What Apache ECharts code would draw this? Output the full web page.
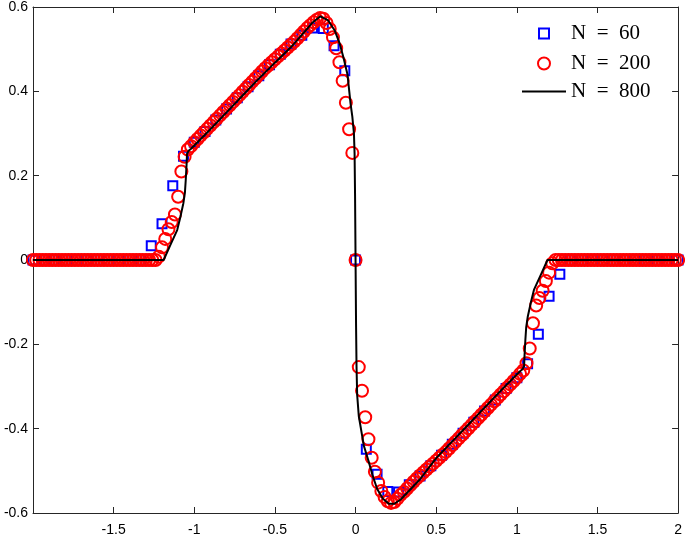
<!DOCTYPE html>
<html><head><meta charset="utf-8">
<script src="https://cdn.jsdelivr.net/npm/echarts@6/dist/echarts.min.js"></script>
<style>html,body{margin:0;padding:0;background:#fff}#c{width:685px;height:537px}</style>
</head><body><div id="c"></div><script>
// grids (uniform nodes on [-2, 2])
const n60 = 60, n200 = 200;
const x60 = Array.from({length: n60 + 1}, (_, i) => +(-2 + 4 * i / n60).toFixed(4));
const x200 = Array.from({length: n200 + 1}, (_, i) => +(-2 + 4 * i / n200).toFixed(4));

// N = 60 values
const y60 = [
  0,0,0,0,0,0,0,0,0,0,0,
  0.034,0.086,0.176,0.246,0.279,0.305,0.332,0.358,0.385,0.411,
  0.437,0.463,0.488,0.512,0.533,0.55,0.549,0.508,0.449,
  0,
  -0.449,-0.508,-0.549,-0.55,-0.533,-0.512,-0.488,-0.463,-0.437,
  -0.411,-0.385,-0.358,-0.332,-0.305,-0.279,-0.246,-0.176,-0.086,-0.034,
  0,0,0,0,0,0,0,0,0,0,0
];

// N = 200 values
const y200 = [
  0,0,0,0,0,0,0,0,0,0, 0,0,0,0,0,0,0,0,0,0, 0,0,0,0,0,0,0,0,0,0, 0,0,0,0,0,0,0,0,0,
  0.008,0.03,0.05,0.073,0.09,0.108,0.15,0.21,0.245,0.262,
  0.27,0.279,0.287,0.295,0.303,0.311,0.319,0.327,0.335,0.343,
  0.351,0.359,0.367,0.375,0.383,0.391,0.399,0.407,0.415,0.423,
  0.431,0.439,0.447,0.455,0.462,0.469,0.476,0.483,0.49,0.497,
  0.504,0.511,0.518,0.526,0.534,0.542,0.55,0.557,0.564,0.57,
  0.574,0.572,0.562,0.548,0.528,0.502,0.469,0.425,0.373,0.31,
  0.254,
  0,
  -0.254,-0.31,-0.373,-0.425,-0.469,-0.502,-0.528,-0.548,-0.562,-0.572,
  -0.576,-0.574,-0.566,-0.557,-0.55,-0.542,-0.534,-0.526,-0.518,-0.511,
  -0.504,-0.497,-0.49,-0.483,-0.476,-0.469,-0.462,-0.455,-0.447,-0.439,
  -0.431,-0.423,-0.415,-0.407,-0.399,-0.391,-0.383,-0.375,-0.367,-0.359,
  -0.351,-0.343,-0.335,-0.327,-0.319,-0.311,-0.303,-0.295,-0.287,-0.279,
  -0.27,-0.262,-0.245,-0.21,-0.15,-0.108,-0.09,-0.073,-0.05,-0.03,
  -0.008,
  0,0,0,0,0,0,0,0,0,0, 0,0,0,0,0,0,0,0,0,0, 0,0,0,0,0,0,0,0,0,0, 0,0,0,0,0,0,0,0,0
];

// N = 800 reference curve
const x800 = [-2,-1.19,-1.15,-1.106,-1.085,-1.068,-1.058,-1.053,-1.048,-1.045,-1.035,-1.02,
  -0.9,-0.8,-0.7,-0.6,-0.5,-0.4,-0.33,-0.27,-0.218,-0.17,-0.13,-0.1,-0.075,-0.05,-0.031,-0.02,-0.01,-0.006,-0.003,0,
  0.003,0.006,0.01,0.02,0.041,0.051,0.083,0.105,0.134,0.17,0.206,0.24,0.28,0.32,0.4,0.5,0.6,0.7,0.8,0.9,
  1.02,1.035,1.045,1.048,1.053,1.058,1.068,1.085,1.106,1.15,1.19,2];
const y800 = [0,0,0.034,0.071,0.104,0.134,0.16,0.189,0.225,0.252,0.259,0.264,
  0.31,0.35,0.39,0.43,0.468,0.505,0.535,0.562,0.578,0.568,0.545,0.515,0.48,0.44,0.371,0.34,0.3,0.252,0.15,0,
  -0.15,-0.252,-0.32,-0.37,-0.417,-0.44,-0.48,-0.51,-0.543,-0.566,-0.578,-0.578,-0.568,-0.552,-0.52,-0.47,-0.43,-0.39,-0.35,-0.31,
  -0.264,-0.259,-0.252,-0.225,-0.189,-0.16,-0.134,-0.104,-0.071,-0.034,0,0];

const names = ['N  =  60', 'N  =  200', 'N  =  800'];
const xTicks = {min: -2, max: 2, interval: 0.5};
const yTicks = {min: -0.6, max: 0.6, interval: 0.2};

const axisCol = '#262626';
const labelFont = {color: '#000', fontFamily: 'Liberation Sans, Arial, sans-serif', fontSize: 14};
function xAx(pos, showLabel) {
  return {type: 'value', position: pos, min: xTicks.min, max: xTicks.max, interval: xTicks.interval,
    axisLine: {show: true, onZero: false, lineStyle: {color: axisCol, width: 1}},
    axisTick: {show: true, inside: true, length: 6, lineStyle: {color: axisCol, width: 1}},
    axisLabel: Object.assign({show: showLabel, showMinLabel: false, margin: 10}, labelFont),
    splitLine: {show: false}};
}
function yAx(pos, showLabel) {
  return {type: 'value', position: pos, min: yTicks.min, max: yTicks.max, interval: yTicks.interval,
    axisLine: {show: true, onZero: false, lineStyle: {color: axisCol, width: 1}},
    axisTick: {show: true, inside: true, length: 6, lineStyle: {color: axisCol, width: 1}},
    axisLabel: Object.assign({show: showLabel, margin: 5}, labelFont),
    splitLine: {show: false}};
}
const legFont = {fontFamily: 'Liberation Serif, Times New Roman, serif', fontSize: 21, color: '#000'};

const chart = echarts.init(document.getElementById('c'), null, {renderer: 'canvas'});
chart.setOption({
  animation: false,
  backgroundColor: '#fff',
  grid: {left: 33, right: 6, top: 6, bottom: 23, containLabel: false},
  xAxis: [xAx('bottom', true), xAx('top', false)],
  yAxis: [yAx('left', true), yAx('right', false)],
  legend: [
    {data: [names[0]], left: 538, top: 23, padding: 0, itemWidth: 10, itemHeight: 10,
      textStyle: Object.assign({padding: [0, 0, 0, 17]}, legFont)},
    {data: [names[1]], left: 537, top: 53, padding: 0, itemWidth: 12, itemHeight: 12,
      textStyle: Object.assign({padding: [0, 0, 0, 16]}, legFont)},
    {data: [{name: names[2], icon: 'rect'}], left: 522, top: 81, padding: 0, itemWidth: 44, itemHeight: 2,
      itemStyle: {color: '#000', borderWidth: 0},
      textStyle: Object.assign({padding: [0, 0, 0, 0]}, legFont)}
  ],
  series: [
    {type: 'scatter', name: names[0], data: x60.map((x, i) => [x, y60[i]]),
      symbol: 'rect', symbolSize: 9, z: 2,
      itemStyle: {color: 'rgba(0,0,0,0)', borderColor: '#0000ff', borderWidth: 2, opacity: 1}},
    {type: 'scatter', name: names[1], data: x200.map((x, i) => [x, y200[i]]),
      symbol: 'circle', symbolSize: 12, z: 3,
      itemStyle: {color: 'rgba(0,0,0,0)', borderColor: '#ff0000', borderWidth: 2, opacity: 1}},
    {type: 'line', name: names[2], data: x800.map((x, i) => [x, y800[i]]),
      symbol: 'none', z: 4, lineStyle: {color: '#000', width: 2}, itemStyle: {color: '#000'}}
  ]
});
</script></body></html>
